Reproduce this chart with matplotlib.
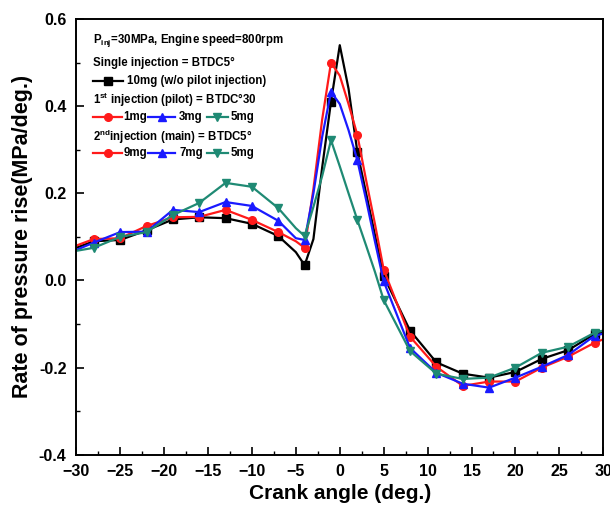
import matplotlib
matplotlib.use("Agg")
import matplotlib.pyplot as plt
from matplotlib.ticker import MultipleLocator

plt.rcParams['font.family'] = ['Liberation Sans', 'DejaVu Sans']
plt.rcParams['font.weight'] = 'bold'
plt.rcParams['mathtext.fontset'] = 'custom'
plt.rcParams['mathtext.rm'] = 'Liberation Sans:bold'
plt.rcParams['mathtext.it'] = 'Liberation Sans:bold'
plt.rcParams['mathtext.bf'] = 'Liberation Sans:bold'

# Crank angle (deg.)
crank = [-30, -28, -25, -22, -19, -16, -13, -10, -7, -5, -4, -3, -2, -1, 0, 1, 2, 3, 4, 5,
         8, 11, 14, 17, 20, 23, 26, 29, 30]
marker_angles = [-28, -25, -22, -19, -16, -13, -10, -7, -4, -1, 2, 5, 8, 11, 14, 17, 20, 23, 26, 29]

# Rate of pressure rise (MPa/deg.)
single_10mg = [0.075, 0.090, 0.093, 0.115, 0.140, 0.145, 0.143, 0.130, 0.102, 0.065, 0.035, 0.095,
               0.260, 0.410, 0.540, 0.440, 0.295, 0.200, 0.105, 0.010,
               -0.115, -0.188, -0.214, -0.223, -0.210, -0.180, -0.160, -0.123, -0.120]
pilot1_main9 = [0.080, 0.095, 0.097, 0.125, 0.145, 0.146, 0.162, 0.139, 0.111, 0.090, 0.075, 0.210,
                0.370, 0.500, 0.470, 0.405, 0.334, 0.230, 0.130, 0.025,
                -0.129, -0.198, -0.242, -0.232, -0.232, -0.200, -0.175, -0.143, -0.135]
pilot3_main7 = [0.070, 0.087, 0.111, 0.112, 0.162, 0.157, 0.180, 0.171, 0.137, 0.097, 0.093, 0.200,
                0.330, 0.433, 0.405, 0.345, 0.276, 0.185, 0.090, -0.002,
                -0.155, -0.212, -0.237, -0.246, -0.223, -0.198, -0.171, -0.127, -0.122]
pilot5_main5 = [0.068, 0.075, 0.100, 0.111, 0.150, 0.178, 0.224, 0.215, 0.166, 0.120, 0.102, 0.169,
                0.240, 0.322, 0.262, 0.200, 0.139, 0.080, 0.020, -0.045,
                -0.162, -0.214, -0.226, -0.223, -0.200, -0.166, -0.152, -0.120, -0.115]

black = '#000000'
red = '#ff1a1a'
blue = '#1a1aff'
green = '#1f8a74'

fig = plt.figure(figsize=(6.10, 5.15), dpi=100)
ax = fig.add_axes([0.125, 0.117, 0.864, 0.846])

mk = [i for i, a in enumerate(crank) if a in marker_angles]
series = [
    (single_10mg, black, 's'),
    (pilot1_main9, red, 'o'),
    (pilot3_main7, blue, '^'),
    (pilot5_main5, green, 'v'),
]
for vals, c, m in series:
    ax.plot(crank, vals, color=c, lw=1.6, marker=m, ms=5.5, markevery=mk)

ax.set_xlim(-30, 30)
ax.set_ylim(-0.4, 0.6)
ax.xaxis.set_major_locator(MultipleLocator(5))
ax.xaxis.set_minor_locator(MultipleLocator(2.5))
ax.yaxis.set_minor_locator(MultipleLocator(0.1))
ax.tick_params(which='both', direction='in', top=False, right=False, labelsize=11.5)
ax.tick_params(which='major', length=6, width=1.2)
ax.tick_params(which='minor', length=3, width=1.0)
ax.tick_params(axis='x', which='major', pad=7)
ax.tick_params(axis='y', which='major', pad=7)
for s in ax.spines.values():
    s.set_linewidth(1.4)
ax.set_yticks([-0.4, -0.2, 0.0, 0.2, 0.4, 0.6])
ax.set_yticklabels(['-0.4', '-0.2', '0.0', '0.2', '0.4', '0.6'], fontweight='bold')
for lab in ax.get_xticklabels():
    lab.set_fontweight('bold')

ax.set_xlabel('Crank angle (deg.)', fontsize=15, fontweight='bold', labelpad=3)
ax.set_ylabel('Rate of pressure rise(MPa/deg.)', fontsize=15.5, fontweight='bold', labelpad=4)

# Manual legend
fs = 8.3
T = ax.transAxes
ax.text(0.032, 0.950, r'P$_{inj}$=30MPa, Engine speed=800rpm', transform=T, fontsize=fs, va='center')
ax.text(0.032, 0.899, 'Single injection = BTDC5°', transform=T, fontsize=fs, va='center')
ax.plot([0.032, 0.089], [0.858, 0.858], transform=T, color=black, lw=1.6)
ax.plot([0.0605], [0.858], transform=T, color=black, marker='s', ms=5.5)
ax.text(0.097, 0.858, '10mg (w/o pilot injection)', transform=T, fontsize=fs, va='center')
ax.text(0.032, 0.814, r'1$^{st}$ injection (pilot) = BTDC°30', transform=T, fontsize=fs, va='center')
ax.text(0.032, 0.729, r'2$^{nd}$injection (main) = BTDC5°', transform=T, fontsize=fs, va='center')

rows = [(0.775, ['1mg', '3mg', '5mg']), (0.693, ['9mg', '7mg', '5mg'])]
keys = [((0.032, 0.087), 0.090, red, 'o'),
        ((0.137, 0.188), 0.195, blue, '^'),
        ((0.249, 0.287), 0.292, green, 'v')]
for yrow, labels in rows:
    for ((x0, x1), tx, c, m), lab in zip(keys, labels):
        ax.plot([x0, x1], [yrow, yrow], transform=T, color=c, lw=1.6)
        ax.plot([(x0 + x1) / 2], [yrow], transform=T, color=c, marker=m, ms=5.5)
        ax.text(tx, yrow, lab, transform=T, fontsize=fs, va='center')

fig.savefig('out.png', dpi=100)
